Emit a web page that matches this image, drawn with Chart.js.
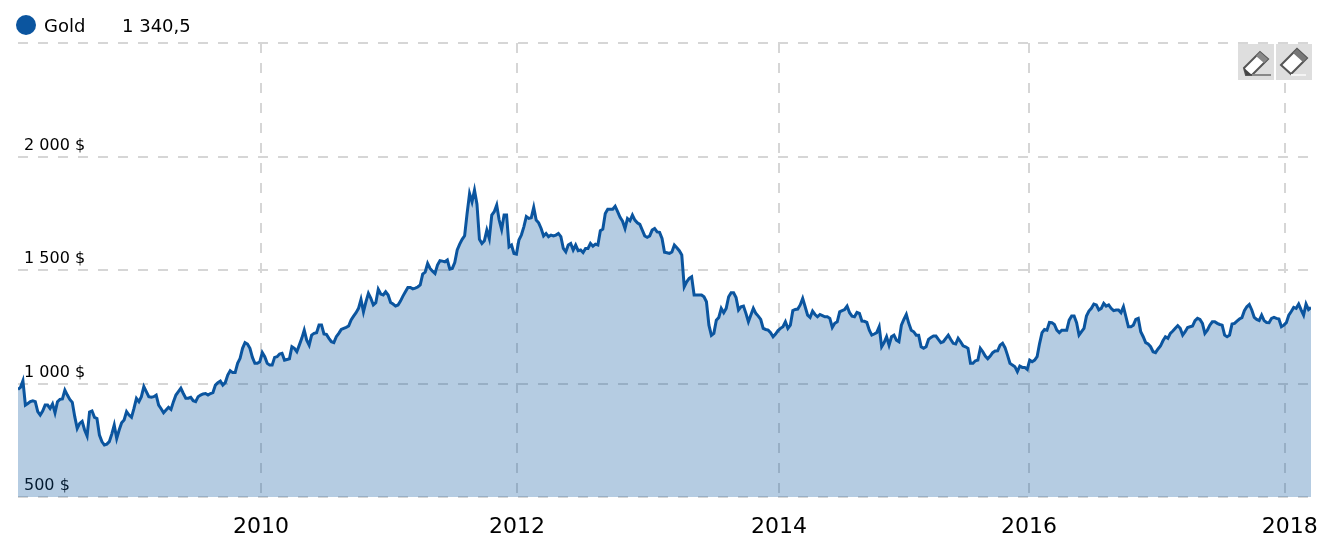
<!DOCTYPE html>
<html>
<head>
<meta charset="utf-8">
<script src="https://cdn.jsdelivr.net/npm/chart.js@4"></script>
<style>
html,body{margin:0;padding:0;background:#fff;overflow:hidden}
#wrap{position:relative;width:1326px;height:552px;font-family:"DejaVu Sans",sans-serif;color:#111}
canvas{position:absolute;left:0;top:0}
.dot{position:absolute;left:16px;top:15px;width:20px;height:20px;border-radius:50%;background:#0b559f}
.t{position:absolute;top:15px;font-size:18px;line-height:21px;white-space:nowrap;color:#000}
.btn{position:absolute;top:44px;width:36px;height:36px;background:#dedede}
.btn svg{display:block}
</style>
</head>
<body>
<div id="wrap">
<canvas id="c" width="1326" height="552"></canvas>
<div class="dot"></div>
<div class="t" style="left:44px">Gold</div>
<div class="t" style="left:122px">1 340,5</div>
<div class="btn" style="left:1238px"><svg width="36" height="36"><path d="M6 24 L22 8 L30 15 L14 31 L8 31 Z" fill="#fff" stroke="#555" stroke-width="2"/><path d="M22 8 L30 15 L26 19 L18 12 Z" fill="#888"/><path d="M6 24 L14 31 L8 31 Z" fill="#444"/><path d="M14 31 H33" stroke="#888" stroke-width="2"/></svg></div>
<div class="btn" style="left:1276px"><svg width="36" height="36"><path d="M5 21 L21 5 L31 14 L15 30 Z" fill="#fff" stroke="#555" stroke-width="2"/><path d="M21 5 L31 14 L27 18 L17 9 Z" fill="#777"/><path d="M15 31 H30" stroke="#f4f4f4" stroke-width="2"/></svg></div>
</div>
<script>
const seriesName = "Gold";
const yearLabels = ["2010","2012","2014","2016","2018"];
const yearWeeks = [98.5,202.2,308.4,409.7,513.4];
const priceTicks = [500,1000,1500,2000,2500];
const prices = [
974,983,1012,905,912,920,924,920,876,861,879,905,905,890,910,871,920,930,932,971,
949,930,917,854,802,824,833,795,769,874,879,851,846,773,744,729,733,744,777,817,
758,795,827,839,876,861,851,890,934,920,942,986,964,942,940,942,949,905,889,871,
883,895,886,920,949,964,979,956,935,935,939,924,920,942,949,954,956,949,956,960,
993,1004,1011,993,1004,1037,1056,1048,1048,1089,1111,1155,1180,1174,1155,1115,1089,1089,1096,1136,
1118,1089,1081,1081,1115,1118,1130,1133,1103,1106,1109,1162,1155,1140,1169,1199,1235,1191,1169,1213,
1221,1224,1258,1258,1218,1216,1199,1184,1180,1206,1221,1238,1243,1247,1253,1280,1297,1312,1331,1370,
1316,1360,1397,1375,1346,1356,1415,1394,1390,1404,1390,1357,1350,1341,1346,1363,1385,1404,1423,1423,
1417,1420,1425,1434,1482,1491,1529,1507,1495,1485,1522,1541,1539,1536,1544,1504,1507,1533,1588,1614,
1635,1651,1749,1837,1800,1852,1790,1635,1617,1629,1676,1639,1742,1757,1786,1720,1679,1742,1742,1602,
1610,1573,1570,1632,1654,1690,1735,1727,1730,1776,1720,1708,1683,1650,1661,1647,1654,1650,1654,1661,
1647,1595,1580,1610,1617,1588,1610,1585,1588,1577,1595,1595,1617,1605,1614,1610,1673,1680,1749,1768,
1768,1768,1781,1757,1732,1715,1683,1727,1717,1742,1720,1708,1701,1676,1650,1644,1650,1676,1683,1668,
1666,1639,1578,1576,1573,1579,1610,1598,1585,1566,1426,1448,1463,1470,1390,1390,1390,1390,1382,1360,
1257,1212,1221,1279,1291,1331,1312,1331,1382,1400,1400,1379,1324,1338,1341,1309,1272,1302,1331,1309,
1297,1282,1243,1238,1235,1224,1206,1218,1233,1243,1250,1272,1243,1257,1321,1326,1328,1346,1375,1338,
1301,1291,1319,1304,1294,1304,1299,1294,1294,1287,1247,1265,1272,1316,1321,1326,1341,1312,1297,1294,
1313,1309,1275,1274,1269,1235,1213,1218,1224,1250,1162,1180,1206,1169,1206,1213,1191,1184,1257,1282,
1304,1265,1235,1228,1213,1213,1162,1155,1162,1194,1203,1209,1209,1194,1180,1184,1199,1213,1194,1177,
1174,1199,1184,1166,1162,1155,1089,1089,1100,1103,1155,1140,1121,1109,1121,1136,1143,1144,1169,1177,
1158,1125,1089,1081,1074,1052,1077,1071,1071,1062,1103,1096,1103,1118,1176,1224,1238,1235,1269,1268,
1260,1235,1224,1235,1235,1235,1279,1297,1297,1268,1213,1228,1243,1297,1319,1331,1350,1346,1324,1331,
1353,1341,1346,1331,1321,1324,1324,1312,1338,1294,1250,1250,1257,1282,1287,1228,1206,1180,1174,1162,
1140,1136,1152,1165,1188,1206,1199,1221,1231,1243,1255,1243,1213,1228,1247,1250,1253,1277,1287,1282,
1265,1221,1235,1257,1272,1272,1265,1260,1257,1213,1206,1213,1262,1265,1275,1284,1290,1321,1338,1348,
1324,1291,1282,1277,1301,1277,1269,1268,1287,1291,1287,1284,1250,1257,1268,1301,1317,1335,1331,1350,
1324,1301,1350,1326,1335
];
const fmt = v => String(v).replace(/\B(?=(\d{3})+$)/g," ") + " $";
const nudgeLastLabel = {
  id:"nudgeLastLabel",
  beforeDraw(chart){
    const items = chart.scales.x.getLabelItems();
    const last = items[items.length-1];
    if(last && !last.nudged){ last.options.translation[0]+=5; last.nudged=true; }
  }
};
new Chart(document.getElementById("c"),{
  type:"line",
  plugins:[nudgeLastLabel],
  data:{datasets:[{
    label:seriesName,
    data:prices.map((y,x)=>({x,y})),
    borderColor:"#0b559f",
    backgroundColor:"rgba(11,85,159,0.3)",
    borderWidth:3,
    pointRadius:0,
    tension:0,
    fill:"start",
    borderJoinStyle:"miter"
  }]},
  options:{
    responsive:false,
    animation:false,
    devicePixelRatio:1,
    layout:{padding:{left:18,right:15,top:43,bottom:0}},
    plugins:{legend:{display:false},tooltip:{enabled:false}},
    scales:{
      x:{
        type:"linear",min:0,max:prices.length-1,
        afterBuildTicks(s){s.ticks=yearWeeks.map(value=>({value}));},
        afterFit(s){s.height=55;s.paddingLeft=0;s.paddingRight=0;},
        grid:{color:"#d6d6d6",lineWidth:2,drawTicks:false},
        border:{display:false,dash:[10,10]},
        ticks:{
          autoSkip:false,maxRotation:0,padding:17,color:"#000",
          font:{family:"DejaVu Sans",size:22},
          callback(v){const k=yearWeeks.indexOf(v);return k<0?"":yearLabels[k];}
        }
      },
      y:{
        type:"linear",min:priceTicks[0],max:priceTicks[priceTicks.length-1],
        afterBuildTicks(s){s.ticks=priceTicks.map(value=>({value}));},
        afterFit(s){s.width=0;s.paddingTop=0;s.paddingBottom=0;},
        grid:{color:"#d6d6d6",lineWidth:2,drawTicks:false},
        border:{display:false,dash:[10,10]},
        ticks:{
          mirror:true,padding:6,labelOffset:-11,color:"#000",
          font:{family:"DejaVu Sans",size:16},
          callback(v){return v===2500?"":fmt(v);}
        }
      }
    }
  }
});
</script>
</body>
</html>
